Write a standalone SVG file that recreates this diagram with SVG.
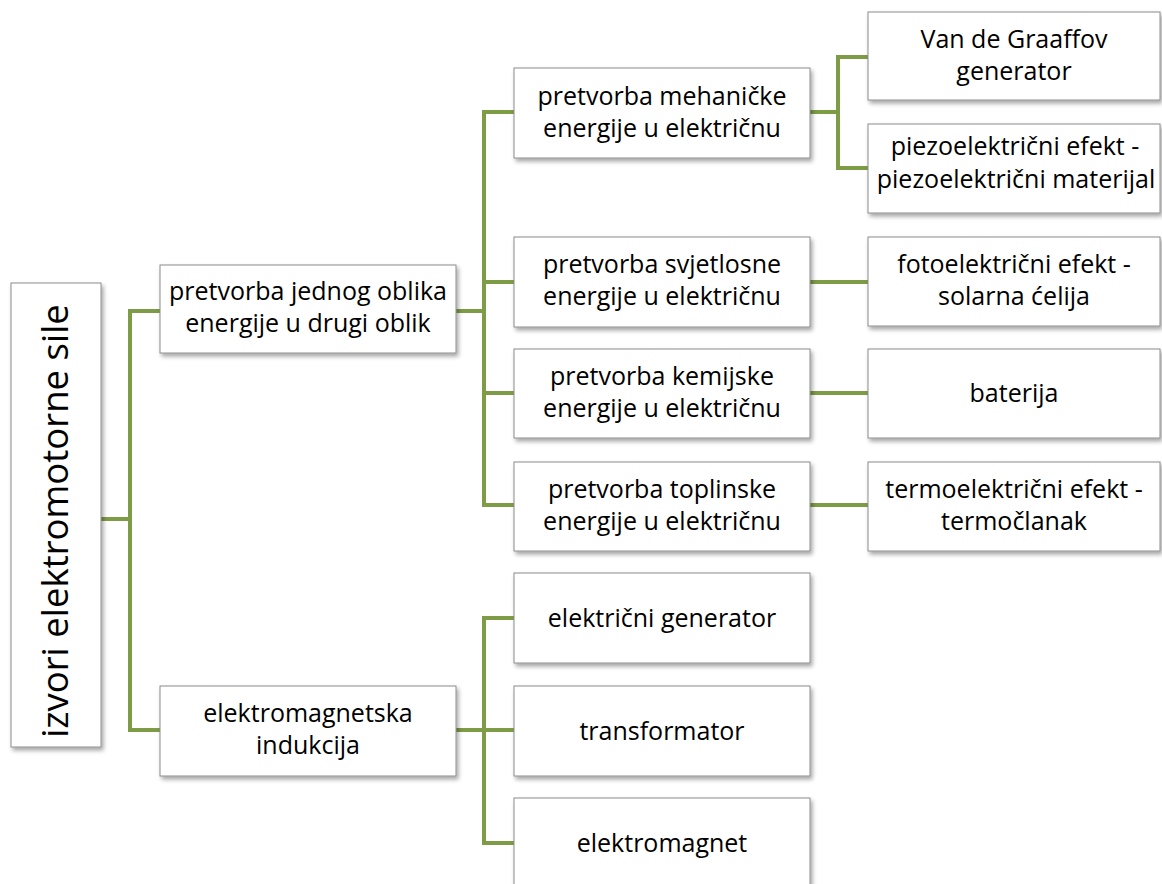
<svg xmlns="http://www.w3.org/2000/svg" width="1162" height="884" viewBox="0 0 1162 884">
  <defs>
    <filter id="sh" x="-10%" y="-10%" width="130%" height="130%">
      <feDropShadow dx="2" dy="3" stdDeviation="2" flood-color="#000" flood-opacity="0.35"/>
    </filter>
  </defs>
  <style>
    .box { fill: #ffffff; stroke: #8c8c8c; stroke-width: 1; filter: url(#sh); }
    .t { font-family: "Open Sans", "Liberation Sans", sans-serif; font-size: 25px; fill: #000; text-anchor: middle; }
    .root { font-size: 36.5px; }
    .c { fill: none; stroke: #7e9b45; stroke-width: 4; stroke-linejoin: miter; }
  </style>
  <rect width="1162" height="884" fill="#ffffff"/>

  <g id="connectors">
    <path class="c" d="M101,519 H130"/>
    <path class="c" d="M160,311 H130 V730 H160"/>
    <path class="c" d="M456,311 H484"/>
    <path class="c" d="M514,112 H484 V505 H514"/>
    <path class="c" d="M484,282 H514"/>
    <path class="c" d="M484,393 H514"/>
    <path class="c" d="M810,112 H838"/>
    <path class="c" d="M868,57 H838 V168 H868"/>
    <path class="c" d="M810,282 H868"/>
    <path class="c" d="M810,393 H868"/>
    <path class="c" d="M810,505 H868"/>
    <path class="c" d="M456,730 H484"/>
    <path class="c" d="M514,618 H484 V843 H514"/>
    <path class="c" d="M484,730 H514"/>
  </g>

  <g id="root">
    <rect class="box" x="11" y="283" width="90" height="464"/>
    <text class="t root" transform="translate(68,521) rotate(-90)" x="0" y="0">izvori elektromotorne sile</text>
  </g>

  <g id="n-pretvorba">
    <rect class="box" x="160" y="265" width="296" height="88"/>
    <text class="t" x="308" y="300">pretvorba jednog oblika</text>
    <text class="t" x="308" y="332">energije u drugi oblik</text>
  </g>

  <g id="n-indukcija">
    <rect class="box" x="160" y="686" width="296" height="90"/>
    <text class="t" x="308" y="722">elektromagnetska</text>
    <text class="t" x="308" y="754">indukcija</text>
  </g>

  <g id="n-mehanicke">
    <rect class="box" x="514" y="68" width="296" height="90"/>
    <text class="t" x="662" y="105">pretvorba mehaničke</text>
    <text class="t" x="662" y="137">energije u električnu</text>
  </g>

  <g id="n-svjetlosne">
    <rect class="box" x="514" y="237" width="296" height="90"/>
    <text class="t" x="662" y="273">pretvorba svjetlosne</text>
    <text class="t" x="662" y="305">energije u električnu</text>
  </g>

  <g id="n-kemijske">
    <rect class="box" x="514" y="349" width="296" height="89"/>
    <text class="t" x="662" y="385">pretvorba kemijske</text>
    <text class="t" x="662" y="417">energije u električnu</text>
  </g>

  <g id="n-toplinske">
    <rect class="box" x="514" y="462" width="296" height="89"/>
    <text class="t" x="662" y="498">pretvorba toplinske</text>
    <text class="t" x="662" y="530">energije u električnu</text>
  </g>

  <g id="n-generator">
    <rect class="box" x="514" y="573" width="296" height="90"/>
    <text class="t" x="662" y="627">električni generator</text>
  </g>

  <g id="n-transformator">
    <rect class="box" x="514" y="686" width="296" height="90"/>
    <text class="t" x="662" y="740">transformator</text>
  </g>

  <g id="n-elektromagnet">
    <rect class="box" x="514" y="798" width="296" height="92"/>
    <text class="t" x="662" y="852">elektromagnet</text>
  </g>

  <g id="n-vandegraaff">
    <rect class="box" x="868" y="12" width="292" height="88"/>
    <text class="t" x="1014" y="48">Van de Graaffov</text>
    <text class="t" x="1014" y="80">generator</text>
  </g>

  <g id="n-piezo">
    <rect class="box" x="868" y="124" width="292" height="89"/>
    <text class="t" x="1015" y="155">piezoelektrični efekt -</text>
    <text class="t" x="1016" y="188">piezoelektrični materijal</text>
  </g>

  <g id="n-foto">
    <rect class="box" x="868" y="237" width="292" height="89"/>
    <text class="t" x="1014" y="273">fotoelektrični efekt -</text>
    <text class="t" x="1014" y="305">solarna ćelija</text>
  </g>

  <g id="n-baterija">
    <rect class="box" x="868" y="349" width="292" height="89"/>
    <text class="t" x="1014" y="402">baterija</text>
  </g>

  <g id="n-termo">
    <rect class="box" x="868" y="462" width="292" height="89"/>
    <text class="t" x="1014" y="498">termoelektrični efekt -</text>
    <text class="t" x="1014" y="530">termočlanak</text>
  </g>
</svg>
